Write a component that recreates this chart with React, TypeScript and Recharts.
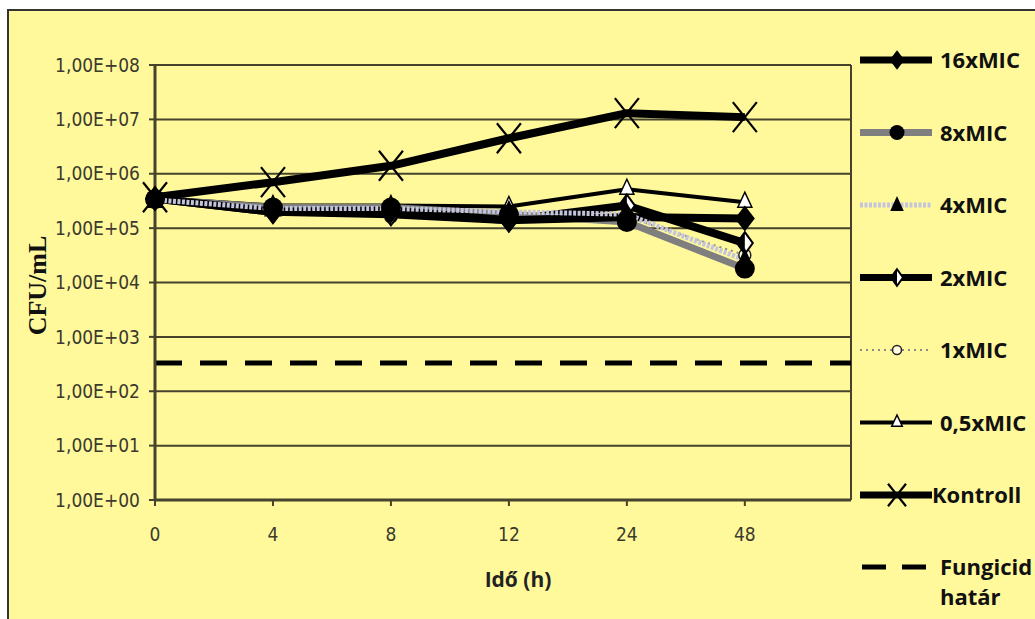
import React from "react";
import {
  LineChart,
  Line,
  XAxis,
  YAxis,
  CartesianGrid,
  ReferenceLine,
  Legend,
  Label,
} from "recharts";

// sampling times (h)
const hours = ["0", "4", "8", "12", "24", "48"];

// CFU/mL
const mic16 = [3.5e5, 2.0e5, 2.1e5, 1.4e5, 1.6e5, 1.5e5];
const mic8 = [3.4e5, 2.4e5, 2.4e5, 1.8e5, 1.3e5, 1.8e4];
const mic4 = [3.3e5, 2.3e5, 2.3e5, 2.0e5, 1.8e5, 2.6e4];
const mic2 = [3.5e5, 2.0e5, 1.8e5, 1.4e5, 2.6e5, 5.3e4];
const mic1 = [3.2e5, 1.9e5, 1.6e5, 1.3e5, 1.6e5, 3.2e4];
const mic05 = [3.6e5, 2.6e5, 2.6e5, 2.5e5, 5.2e5, 3.0e5];
const kontroll = [3.7e5, 7.0e5, 1.4e6, 4.5e6, 1.3e7, 1.1e7];
const fungicidLimit = 330;

const yTicks = [1, 10, 100, 1e3, 1e4, 1e5, 1e6, 1e7, 1e8];
const xMax = 5.9;

const series = [
  { key: "mic16", name: "16xMIC", values: mic16 },
  { key: "mic8", name: "8xMIC", values: mic8 },
  { key: "mic4", name: "4xMIC", values: mic4 },
  { key: "mic2", name: "2xMIC", values: mic2 },
  { key: "mic1", name: "1xMIC", values: mic1 },
  { key: "mic05", name: "0,5xMIC", values: mic05 },
  { key: "kontroll", name: "Kontroll", values: kontroll },
];

// paint order (last on top)
const drawOrder = ["kontroll", "mic1", "mic05", "mic2", "mic8", "mic16", "mic4"];

const styles: Record<string, any> = {
  mic16: { stroke: "#000", width: 8, marker: "diamond" },
  mic8: { stroke: "#7f7f7f", width: 7, marker: "circle" },
  mic4: { stroke: "#c4c4dc", width: 5, dash: "3 1.5", marker: "triangle" },
  mic2: { stroke: "#000", width: 8, marker: "halfDiamond" },
  mic1: { stroke: "#8a8a8a", width: 2, dash: "2 4", marker: "openCircle" },
  mic05: { stroke: "#000", width: 4, marker: "openTriangle" },
  kontroll: { stroke: "#000", width: 8, marker: "x" },
};

const data = hours.map((h, i) => {
  const row: Record<string, any> = { idx: i, h };
  series.forEach((s) => (row[s.key] = s.values[i]));
  return row;
});

const BG = "#fff99c";
const INK = "#45432c";

function Marker({ type, cx, cy, s = 1 }: { type: string; cx: number; cy: number; s?: number }) {
  switch (type) {
    case "diamond":
      return <polygon points={`${cx},${cy - 13 * s} ${cx + 10 * s},${cy} ${cx},${cy + 13 * s} ${cx - 10 * s},${cy}`} fill="#000" />;
    case "circle":
      return <circle cx={cx} cy={cy} r={10 * s} fill="#000" />;
    case "triangle":
      return <polygon points={`${cx},${cy - 12 * s} ${cx + 9 * s},${cy + 8 * s} ${cx - 9 * s},${cy + 8 * s}`} fill="#000" />;
    case "halfDiamond":
      return (
        <g>
          <polygon points={`${cx},${cy - 11 * s} ${cx + 8 * s},${cy} ${cx},${cy + 11 * s} ${cx - 8 * s},${cy}`} fill="#fff" stroke="#000" strokeWidth={2} />
          <polygon points={`${cx},${cy - 11 * s} ${cx},${cy + 11 * s} ${cx - 8 * s},${cy}`} fill="#000" />
        </g>
      );
    case "openCircle":
      return <circle cx={cx} cy={cy} r={6 * s} fill="#fffde0" stroke="#222" strokeWidth={1.5} />;
    case "openTriangle":
      return <polygon points={`${cx},${cy - 10 * s} ${cx + 7 * s},${cy + 5 * s} ${cx - 7 * s},${cy + 5 * s}`} fill="#fff" stroke="#000" strokeWidth={1.5} />;
    case "x":
      return (
        <g stroke="#000" strokeWidth={2.2}>
          <line x1={cx - 12 * s} y1={cy - 15 * s} x2={cx + 12 * s} y2={cy + 15 * s} />
          <line x1={cx - 12 * s} y1={cy + 15 * s} x2={cx + 12 * s} y2={cy - 15 * s} />
        </g>
      );
    default:
      return <g />;
  }
}

const fmtY = (v: number) => `1,00E+${String(Math.round(Math.log10(v))).padStart(2, "0")}`;

function renderLegend() {
  const labelStyle = { fontFamily: "'Open Sans', 'Noto Sans', sans-serif", fontWeight: 700, fontSize: 22, fill: "#111" };
  return (
    <svg width={183} height={619}>
      {series.map((s, i) => {
        const st = styles[s.key];
        const y = 60 + i * 72.5;
        return (
          <g key={s.key}>
            <line x1={8} x2={80} y1={y} y2={y} stroke={st.stroke} strokeWidth={Math.min(st.width, 7)} strokeDasharray={st.dash} />
            <Marker type={st.marker} cx={45} cy={y} s={0.75} />
            <text x={s.key === "kontroll" ? 80 : 88} y={y + 8} style={labelStyle}>
              {s.name}
            </text>
          </g>
        );
      })}
      <line x1={10} x2={80} y1={567} y2={567} stroke="#000" strokeWidth={5} strokeDasharray="24 16" />
      <text x={88} y={575} style={labelStyle}>Fungicid</text>
      <text x={88} y={605} style={labelStyle}>határ</text>
    </svg>
  );
}

export default function App() {
  const tickFont = {
    fontFamily: "'Liberation Sans Narrow', 'DejaVu Sans Condensed', 'Liberation Sans', sans-serif",
    fontSize: 19,
    fill: "#3b3a2c",
  };
  return (
    <div style={{ position: "absolute", left: 0, top: 0, width: 1035, height: 619, overflow: "hidden", background: "#fff" }}>
      <div
        style={{
          position: "absolute",
          left: 7,
          top: 9,
          width: 1040,
          height: 640,
          border: "2px solid #333",
          background: BG,
        }}
      />
      <div style={{ position: "absolute", left: 0, top: 0 }}>
        <LineChart width={1035} height={619} data={data} margin={{ top: 65, right: 184, bottom: 79, left: 0 }}>
          <CartesianGrid vertical={false} stroke={INK} strokeWidth={2} />
          <XAxis
            type="number"
            dataKey="idx"
            domain={[0, xMax]}
            ticks={[0, 1, 2, 3, 4, 5]}
            tickFormatter={(i: number) => hours[i]}
            interval={0}
            height={40}
            tick={tickFont}
            tickSize={6}
            tickMargin={22}
            axisLine={{ stroke: INK, strokeWidth: 3 }}
            tickLine={{ stroke: INK, strokeWidth: 2 }}
          >
            <Label
              content={({ viewBox }: any) => (
                <text
                  x={viewBox.x + viewBox.width / 2 + 15}
                  y={587}
                  textAnchor="middle"
                  style={{ fontFamily: "'Open Sans', sans-serif", fontWeight: 700, fontSize: 21, fill: "#222" }}
                >
                  Idő (h)
                </text>
              )}
            />
          </XAxis>
          <YAxis
            scale="log"
            domain={[1, 1e8]}
            ticks={yTicks}
            tickFormatter={fmtY}
            interval={0}
            width={155}
            tick={tickFont}
            tickSize={6}
            tickMargin={9}
            axisLine={{ stroke: INK, strokeWidth: 3 }}
            tickLine={{ stroke: INK, strokeWidth: 2 }}
            allowDataOverflow
          >
            <Label
              content={({ viewBox }: any) => {
                const cx = viewBox.x + 37;
                const cy = viewBox.y + viewBox.height / 2 + 3;
                return (
                  <text
                    x={cx}
                    y={cy}
                    textAnchor="middle"
                    dominantBaseline="central"
                    transform={`rotate(-90 ${cx} ${cy})`}
                    style={{ fontFamily: "'Liberation Serif', serif", fontWeight: 700, fontSize: 26, fill: "#111" }}
                  >
                    CFU/mL
                  </text>
                );
              }}
            />
          </YAxis>
          <ReferenceLine x={xMax} stroke={INK} strokeWidth={2} />
          <ReferenceLine y={fungicidLimit} stroke="#000" strokeWidth={5} strokeDasharray="27 18" />
          {drawOrder.map((key) => {
            const s = series.find((x) => x.key === key)!;
            const st = styles[key];
            return (
              <Line
                key={key}
                dataKey={key}
                name={s.name}
                type="linear"
                stroke={st.stroke}
                strokeWidth={st.width}
                strokeDasharray={st.dash}
                strokeLinejoin="round"
                dot={(p: any) => (
                  <g key={`${key}-${p.index}`}>
                    <Marker type={st.marker} cx={p.cx} cy={p.cy} />
                  </g>
                )}
                activeDot={false}
                isAnimationActive={false}
              />
            );
          })}
          <Legend
            layout="vertical"
            align="center"
            verticalAlign="middle"
            content={renderLegend}
            wrapperStyle={{ left: 852, top: 0, width: 183, height: 619 }}
          />
        </LineChart>
      </div>
    </div>
  );
}
